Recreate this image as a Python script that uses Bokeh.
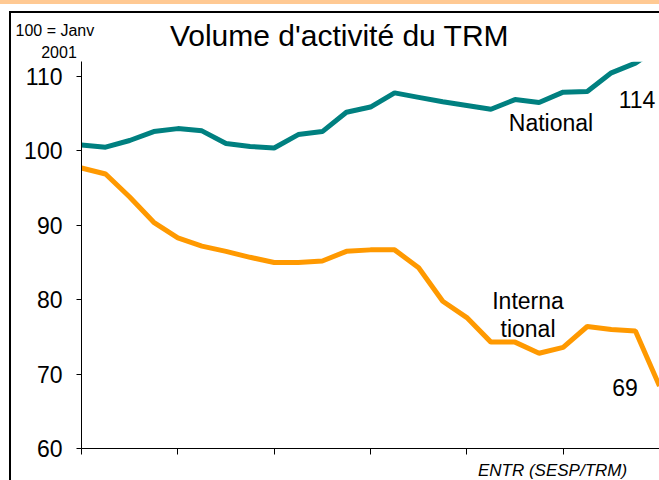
from bokeh.plotting import figure
from bokeh.models import Label, FixedTicker, Range1d, BoxAnnotation
from bokeh.embed import file_html
from bokeh.resources import INLINE

# Quarterly index, 100 = Janv 2001
periodes = ["T1 2001", "T2 2001", "T3 2001", "T4 2001",
            "T1 2002", "T2 2002", "T3 2002", "T4 2002",
            "T1 2003", "T2 2003", "T3 2003", "T4 2003",
            "T1 2004", "T2 2004", "T3 2004", "T4 2004",
            "T1 2005", "T2 2005", "T3 2005", "T4 2005",
            "T1 2006", "T2 2006", "T3 2006", "T4 2006",
            "T1 2007"]
national = [100.8, 100.5, 101.4, 102.6, 103.0, 102.7, 101.0, 100.6,
            100.4, 102.2, 102.6, 105.2, 105.9, 107.8, 107.2, 106.6,
            106.1, 105.6, 106.9, 106.5, 107.9, 108.0, 110.5, 111.8, 114.0]
international = [97.7, 96.9, 93.8, 90.4, 88.3, 87.2, 86.5, 85.7,
                 85.0, 85.0, 85.2, 86.5, 86.7, 86.7, 84.3, 79.8,
                 77.6, 74.3, 74.3, 72.8, 73.6, 76.4, 76.0, 75.8, 68.4]
y_ticks = [60, 70, 80, 90, 100, 110]
x_ticks = [0, 4, 8, 12, 16, 20, 24]
y_top = 112.0   # top of the visible plot area

x = list(range(len(periodes)))

FONT = "Liberation Sans"

p = figure(width=659, height=480, output_backend="svg", toolbar_location=None,
           x_range=Range1d(-3.363, 24), y_range=Range1d(55.70, 120.22),
           min_border_left=0, min_border_right=0, min_border_top=0,
           min_border_bottom=0)
p.title.visible = False
p.grid.visible = False
p.outline_line_color = None
p.border_fill_color = None
p.background_fill_color = None
p.styles = {
    "background": ("linear-gradient(#000,#000) 9px 11px / 2px calc(100% - 11px) no-repeat, "
                   "linear-gradient(#000,#000) 9px 11px / calc(100% - 9px) 2px no-repeat, "
                   "linear-gradient(#FFC993,#FFC993) 0px 0px / 100% 4px no-repeat, #ffffff"),
}

p.line(x, national, line_color="#008080", line_width=5)
p.line(x, international, line_color="#FF9900", line_width=5)

# clip the national series at the top of the plot area
p.add_layout(BoxAnnotation(left=20, bottom=y_top, top=114.8, fill_color="white",
                           fill_alpha=1, line_color=None))

# axes
p.yaxis.fixed_location = 0
p.yaxis.bounds = (60, y_top)
p.yaxis.ticker = FixedTicker(ticks=y_ticks)
p.yaxis.minor_tick_line_color = None
p.yaxis.major_tick_in = 0
p.yaxis.major_tick_out = 5
p.yaxis.major_label_standoff = 14
p.yaxis.major_label_text_font = FONT
p.yaxis.major_label_text_font_size = "23px"
p.yaxis.major_label_text_color = "black"
p.yaxis.axis_line_color = "black"
p.yaxis.major_tick_line_color = "black"

p.xaxis.fixed_location = 60
p.xaxis.bounds = (0, 24)
p.xaxis.ticker = FixedTicker(ticks=x_ticks)
p.xaxis.minor_tick_line_color = None
p.xaxis.major_tick_in = 0
p.xaxis.major_tick_out = 6
p.xaxis.major_label_text_color = None
p.xaxis.axis_line_color = "black"
p.xaxis.major_tick_line_color = "black"

def add_label(xv, yv, txt, size, align="center", style="normal"):
    p.add_layout(Label(x=xv, y=yv, text=txt, text_font=FONT, text_font_size=size,
                       text_align=align, text_baseline="alphabetic",
                       text_color="black", text_font_style=style))

add_label(10.713, 115.58, "Volume d'activité du TRM", "30px")
add_label(-2.740, 116.13, "100 = Janv", "16px", align="left")
add_label(-0.934, 113.31, "2001", "16px")
add_label(19.495, 103.73, "National", "23px")
add_label(23.066, 106.96, "114", "23px")
add_label(18.540, 79.77, "Interna", "23px")
add_label(18.540, 76.00, "tional", "23px")
add_label(22.568, 68.21, "69", "23px")
add_label(19.558, 56.98, "ENTR (SESP/TRM)", "17px", style="italic")

open("out.html", "w").write(file_html(p, INLINE))
